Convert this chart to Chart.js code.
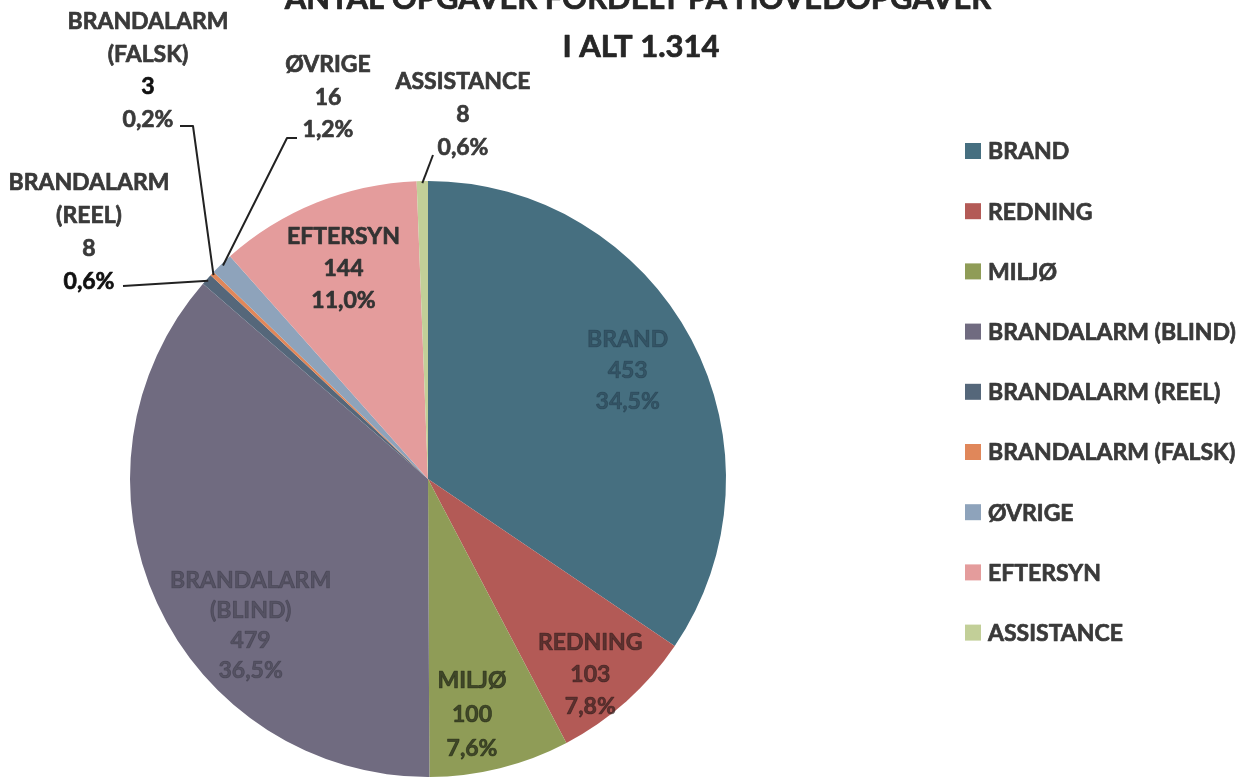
<!DOCTYPE html>
<html>
<head>
<meta charset="utf-8">
<script src="https://cdn.jsdelivr.net/npm/chart.js@4"></script>
<style>
html,body{margin:0;padding:0;background:#fff;overflow:hidden;}
#wrap{position:relative;width:1250px;height:778px;}
</style>
</head>
<body>
<div id="wrap"><canvas id="c" width="1250" height="778"></canvas></div>
<script>
// ---- data ----
const categories = ['BRAND','REDNING','MILJØ','BRANDALARM (BLIND)','BRANDALARM (REEL)','BRANDALARM (FALSK)','ØVRIGE','EFTERSYN','ASSISTANCE'];
const counts = [453,103,100,479,8,3,16,144,8];
const percentLabels = ['34,5%','7,8%','7,6%','36,5%','0,6%','0,2%','1,2%','11,0%','0,6%'];
const nameLines = [['BRAND'],['REDNING'],['MILJØ'],['BRANDALARM','(BLIND)'],['BRANDALARM','(REEL)'],['BRANDALARM','(FALSK)'],['ØVRIGE'],['EFTERSYN'],['ASSISTANCE']];
const titleLines = ['ANTAL OPGAVER FORDELT PÅ HOVEDOPGAVER','I ALT 1.314'];

// ---- styles ----
const sliceColors = ['#466f80','#b35a56','#8f9c57','#706b80','#55677a','#e0875a','#8ea3bb','#e49c9c','#c2cf98'];
const FONT = 'Lato, "Open Sans", sans-serif';
const WEIGHT = 'bold';
const LABEL_SIZE = 23;
const THICKEN = 0.7;
// inside: polar placement relative to slice mid angle; outside: block offsets from pie centre
const placement = [
  {mode:'in', r:0.762, da:-0.5, lh:31, color:'rgba(25,45,60,0.40)'},
  {mode:'in', r:0.853, da:2.1, lh:32, color:'rgba(40,25,25,0.62)'},
  {mode:'in', r:0.805, da:3.4, lh:34, color:'rgba(30,35,20,0.70)'},
  {mode:'in', r:0.772, da:-14.9, lh:30, color:'rgba(45,45,55,0.40)'},
  {mode:'out', bx:-339, by:-296, lh:33, elbow:[[-305,-193]], color:'#3a3a3a', lastColor:'#111'},
  {mode:'out', bx:-280, by:-457, lh:32.5, elbow:[[-248,-353],[-235,-353]], color:'#3a3a3a', numColor:'#111'},
  {mode:'out', bx:-100, by:-414, lh:32.5, elbow:[[-131,-341],[-141,-341]], color:'#3a3a3a'},
  {mode:'in', r:0.76, da:0, lh:32, color:'#333333'},
  {mode:'out', bx:35, by:-397, lh:33, elbow:[[5,-324]], color:'#3a3a3a'}
];

function boldText(ctx, t, x, y, col){
  ctx.fillStyle = col;
  ctx.strokeStyle = col;
  ctx.lineWidth = THICKEN;
  ctx.fillText(t, x, y);
  ctx.strokeText(t, x, y);
}

const labelPlugin = {
  id:'sliceLabels',
  afterDatasetsDraw(chart){
    const ctx = chart.ctx;
    const meta = chart.getDatasetMeta(0);
    ctx.save();
    ctx.font = WEIGHT + ' ' + LABEL_SIZE + 'px ' + FONT;
    ctx.textAlign = 'center';
    ctx.textBaseline = 'middle';
    ctx.lineJoin = 'round';
    meta.data.forEach((arc, i) => {
      const p = arc.getProps(['x','y','startAngle','endAngle','outerRadius'], true);
      const mid = (p.startAngle + p.endAngle) / 2;
      const pl = placement[i];
      const lines = nameLines[i].concat([String(chart.data.datasets[0].data[i]), percentLabels[i]]);
      let cx, cy;
      if (pl.mode === 'in') {
        const a = mid + pl.da * Math.PI / 180;
        cx = p.x + Math.cos(a) * p.outerRadius * pl.r;
        cy = p.y + Math.sin(a) * p.outerRadius * pl.r;
        const top = cy - (lines.length - 1) * pl.lh / 2;
        lines.forEach((t, k) => boldText(ctx, t, cx, top + k * pl.lh, pl.color));
      } else {
        cx = p.x + pl.bx;
        const top = p.y + pl.by;
        lines.forEach((t, k) => {
          let col = pl.color;
          if (pl.numColor && k === lines.length - 2) col = pl.numColor;
          if (pl.lastColor && k === lines.length - 1) col = pl.lastColor;
          boldText(ctx, t, cx, top + k * pl.lh, col);
        });
        // leader line
        ctx.strokeStyle = '#222';
        ctx.lineWidth = 2;
        ctx.beginPath();
        pl.elbow.forEach((e, k) => {
          const ex = p.x + e[0], ey = p.y + e[1];
          if (k === 0) ctx.moveTo(ex, ey); else ctx.lineTo(ex, ey);
        });
        ctx.lineTo(p.x + Math.cos(mid) * (p.outerRadius - 2), p.y + Math.sin(mid) * (p.outerRadius - 2));
        ctx.stroke();
      }
    });
    ctx.restore();
  }
};

const legendPlugin = {
  id:'sideLegend',
  afterDraw(chart){
    const ctx = chart.ctx;
    ctx.save();
    ctx.font = WEIGHT + ' ' + LABEL_SIZE + 'px ' + FONT;
    ctx.textAlign = 'left';
    ctx.textBaseline = 'middle';
    ctx.lineJoin = 'round';
    const x0 = 965, y0 = 151, step = 60.2, box = 16;
    chart.data.labels.forEach((lab, i) => {
      const y = y0 + i * step;
      ctx.fillStyle = chart.data.datasets[0].backgroundColor[i];
      ctx.fillRect(x0, y - box/2, box, box);
      boldText(ctx, lab, x0 + 23, y + 1, '#3a3a3a');
    });
    ctx.restore();
  }
};

const titlePlugin = {
  id:'topTitle',
  afterDraw(chart){
    const ctx = chart.ctx;
    ctx.save();
    ctx.font = WEIGHT + ' 31px ' + FONT;
    ctx.textAlign = 'center';
    ctx.textBaseline = 'middle';
    ctx.lineJoin = 'round';
    boldText(ctx, titleLines[0], 638, -1, '#262626');
    boldText(ctx, titleLines[1], 641, 47, '#262626');
    ctx.restore();
  }
};

new Chart(document.getElementById('c'), {
  type:'pie',
  data:{
    labels: categories,
    datasets:[{
      data: counts,
      backgroundColor: sliceColors,
      borderWidth: 0
    }]
  },
  options:{
    responsive:false,
    animation:false,
    layout:{padding:{left:130, right:524, top:181, bottom:1}},
    plugins:{legend:{display:false}, tooltip:{enabled:false}, title:{display:false}}
  },
  plugins:[labelPlugin, legendPlugin, titlePlugin]
});
</script>
</body>
</html>
